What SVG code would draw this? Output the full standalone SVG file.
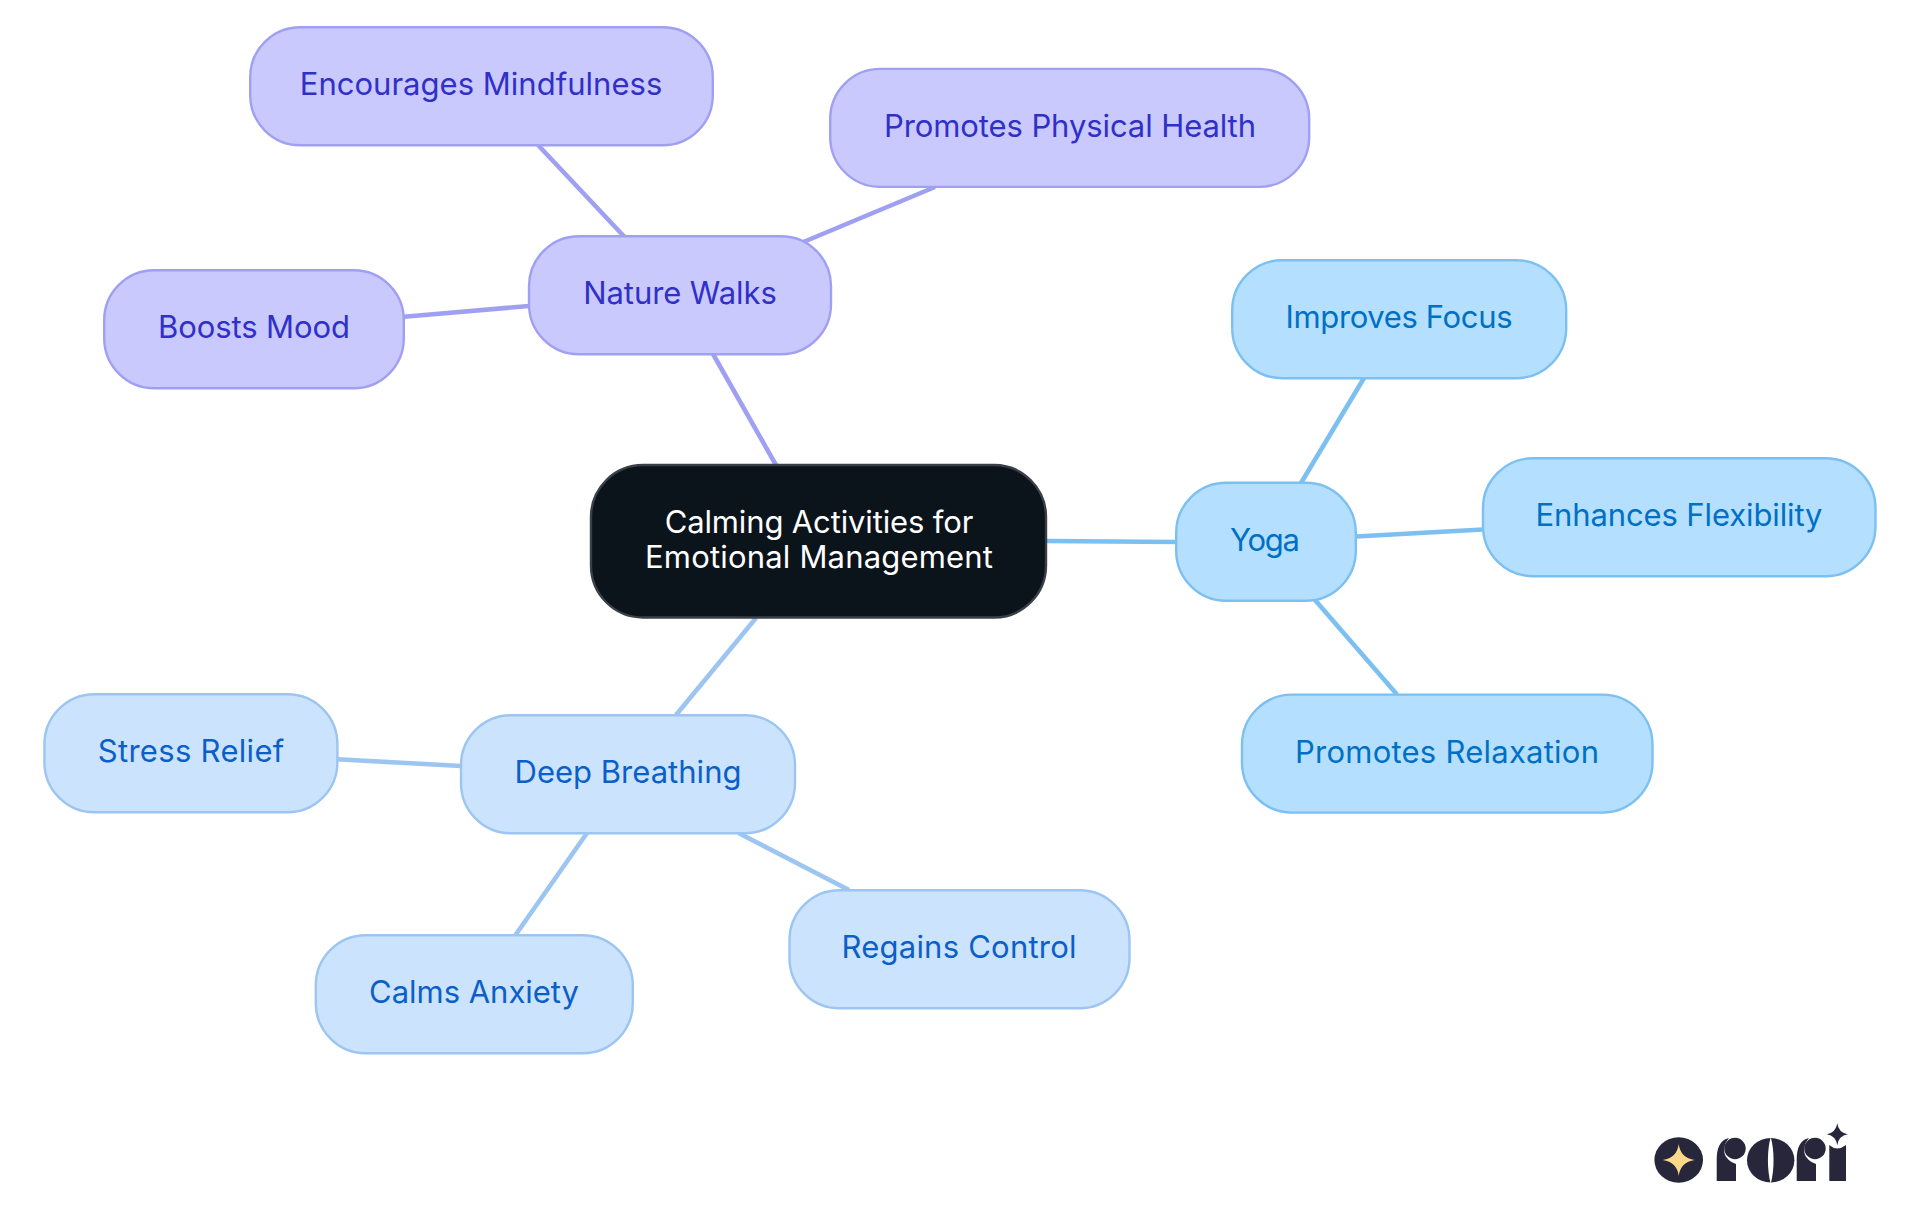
<svg xmlns="http://www.w3.org/2000/svg" width="1920" height="1215" viewBox="0 0 1920 1215">
<style>
text{font-family:"Inter","Noto Sans","Liberation Sans",sans-serif;font-size:31px;text-anchor:middle;font-weight:400}
.n rect{stroke-width:2.4}
.e line{stroke-width:4.6;fill:none}
.p rect{fill:#c9c9fe;stroke:#a0a0f2}.p text{fill:#3030c8}
.y rect{fill:#b5dfff;stroke:#7cc0f2}.y text{fill:#0070c4}
.d rect{fill:#cce3fd;stroke:#9cc5f2}.d text{fill:#0a60c8}
.c rect{fill:#0b131b;stroke:#3a4047}.c text{fill:#fff}
.logo{fill:#27263a}
</style>
<rect width="1920" height="1215" fill="#fff"/>
<g id="connectors" class="e">
<line x1="713" y1="354" x2="776.5" y2="466" stroke="#a0a0f2"/><line x1="624.6" y1="237" x2="538" y2="145" stroke="#a0a0f2"/><line x1="803.4" y1="242" x2="935" y2="187" stroke="#a0a0f2"/><line x1="529" y1="306" x2="404" y2="316.7" stroke="#a0a0f2"/>
<line x1="1047" y1="541" x2="1177" y2="542" stroke="#7cc0f2"/><line x1="1301" y1="483" x2="1364" y2="378" stroke="#7cc0f2"/><line x1="1356" y1="536.5" x2="1483" y2="529.5" stroke="#7cc0f2"/><line x1="1314.8" y1="599.7" x2="1397" y2="694.5" stroke="#7cc0f2"/>
<line x1="756" y1="618" x2="676" y2="715" stroke="#9cc5f2"/><line x1="461" y1="766" x2="337.6" y2="759.3" stroke="#9cc5f2"/><line x1="587" y1="833" x2="515.5" y2="935" stroke="#9cc5f2"/><line x1="738.5" y1="833" x2="849" y2="890" stroke="#9cc5f2"/>
</g>
<g id="n-center" class="n c"><rect x="591" y="465" width="455" height="152.5" rx="52"/><text x="819" y="532.5" textLength="308.6">Calming Activities for</text><text x="819" y="567.5" textLength="348">Emotional Management</text></g>
<g id="n-nature" class="n p"><rect x="529" y="236.2" width="302" height="118" rx="50"/><text x="680" y="304" textLength="193.5">Nature Walks</text></g>
<g id="n-mindful" class="n p"><rect x="250.2" y="27.2" width="462.6" height="118" rx="50"/><text x="481" y="94.5" textLength="362.5">Encourages Mindfulness</text></g>
<g id="n-physical" class="n p"><rect x="830.2" y="68.9" width="479" height="118" rx="50"/><text x="1070" y="136.5" textLength="372">Promotes Physical Health</text></g>
<g id="n-mood" class="n p"><rect x="104.2" y="270.2" width="299.6" height="118" rx="50"/><text x="254" y="338" textLength="192">Boosts Mood</text></g>
<g id="n-yoga" class="n y"><rect x="1176.2" y="482.7" width="179.6" height="118" rx="50"/><text x="1265" y="550.5" textLength="70">Yoga</text></g>
<g id="n-focus" class="n y"><rect x="1232.2" y="260.2" width="334" height="118" rx="50"/><text x="1399" y="328" textLength="227">Improves Focus</text></g>
<g id="n-flex" class="n y"><rect x="1483" y="458.2" width="392.5" height="118" rx="50"/><text x="1679" y="526" textLength="287">Enhances Flexibility</text></g>
<g id="n-relax" class="n y"><rect x="1242" y="694.6" width="410.5" height="118" rx="50"/><text x="1447" y="762.5" textLength="304">Promotes Relaxation</text></g>
<g id="n-deep" class="n d"><rect x="461" y="715.2" width="334" height="118" rx="50"/><text x="628" y="783" textLength="227">Deep Breathing</text></g>
<g id="n-stress" class="n d"><rect x="44.4" y="694.2" width="293" height="118" rx="50"/><text x="191" y="762" textLength="186.5">Stress Relief</text></g>
<g id="n-anxiety" class="n d"><rect x="315.8" y="935.2" width="317" height="118" rx="50"/><text x="474" y="1003" textLength="210">Calms Anxiety</text></g>
<g id="n-control" class="n d"><rect x="789.5" y="890.2" width="340" height="118" rx="50"/><text x="959" y="958" textLength="235">Regains Control</text></g>
<g id="logo">
<ellipse class="logo" cx="1678.7" cy="1160" rx="24.3" ry="22.7"/>
<path d="M1678.7 1144Q1680.5 1158 1694.7 1160Q1680.5 1162 1678.7 1176Q1677 1162 1662.7 1160Q1677 1158 1678.7 1144Z" fill="#fbd98b"/>
<path class="logo" d="M1716.7 1181V1160C1716.7 1148 1720 1140 1729 1138C1723.5 1144 1722.5 1153 1727 1158C1729 1161 1733 1163 1736 1164V1181Z"/><circle class="logo" cx="1735" cy="1148.5" r="10.7"/>
<ellipse class="logo" cx="1770.7" cy="1160.3" rx="23.7" ry="22.2"/>
<path d="M1770.7 1137C1767 1150 1767 1170 1770.7 1184C1774.5 1170 1774.5 1150 1770.7 1137Z" fill="#fff"/>
<path class="logo" d="M1796.7 1181V1160C1796.7 1148 1800 1140 1809 1138C1803.5 1144 1802.5 1153 1807 1158C1809 1161 1813 1163 1816 1164V1181Z"/><circle class="logo" cx="1815" cy="1148.5" r="10.7"/>
<path class="logo" d="M1829.3 1181V1145Q1837 1152 1846 1145V1181Z"/>
<path class="logo" d="M1837.3 1123.3Q1838.3 1132.5 1847.8 1134.3Q1838.3 1136 1837.3 1145.3Q1836 1136 1826.8 1134.3Q1836 1132.5 1837.3 1123.3Z"/>
</g>
</svg>
